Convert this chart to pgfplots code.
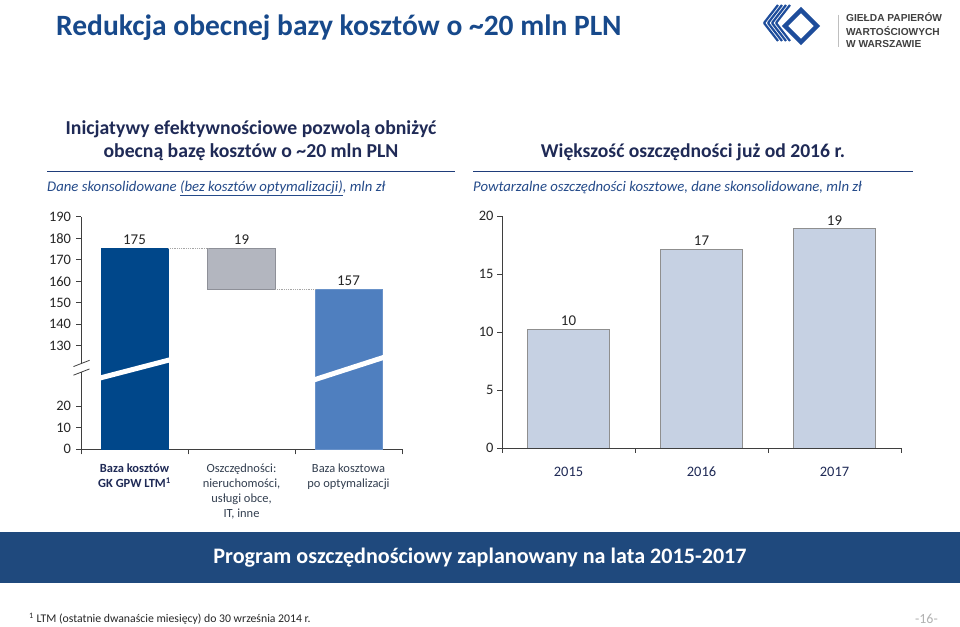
\documentclass[border=0pt]{standalone}
\usepackage{pgfplots}
\pgfplotsset{compat=1.18}
\usepackage{fontspec}
\setmainfont{Carlito}
\newfontfamily\logofont{Liberation Sans}
\definecolor{titleblue}{HTML}{17498B}
\definecolor{navyhead}{HTML}{1F2A56}
\definecolor{subblue}{HTML}{254B8A}
\definecolor{rulenavy}{HTML}{1F3D7A}
\definecolor{bardark}{HTML}{00478A}
\definecolor{barmid}{HTML}{4F7FBF}
\definecolor{graybar}{HTML}{B3B6BF}
\definecolor{grayedge}{HTML}{8E9098}
\definecolor{lightbar}{HTML}{C6D1E3}
\definecolor{lightedge}{HTML}{8F8F8F}
\definecolor{banner}{HTML}{1F497D}
\definecolor{axisgray}{HTML}{3F3F3F}
\definecolor{ticktext}{HTML}{262626}
\definecolor{catgray}{HTML}{333F50}
\definecolor{logoblue}{HTML}{1E4D9B}
\begin{document}
\begin{tikzpicture}
\begin{scope}[x=1bp,y=1bp]
\fill[white] (0,0) rectangle (960,627);
% title
\node[anchor=west, inner sep=0pt, text=titleblue, font=\fontsize{29.6}{34}\selectfont\bfseries] at (56,599) {Redukcja obecnej bazy kosztów o \textasciitilde20 mln PLN};
% logo
\begin{scope}[logoblue]
\draw[line width=4.5bp] (801,617) -- (817,601) -- (801,585) -- (785,601) -- cycle;
\foreach \i in {0,1,2,3}{
  \draw[line width=2.2bp] (790-4*\i,622) -- (776-4*\i,604);
  \draw[line width=2.2bp] (776-4*\i,604) -- (790-4*\i,586);
}
\end{scope}
\draw[gray!50, line width=0.8bp] (838,612) -- (838,580);
\begin{scope}[font=\logofont\bfseries\fontsize{10.2}{11}\selectfont, text=black!75]
\node[anchor=west, inner sep=0pt] at (846,610) {GIEŁDA PAPIERÓW};
\node[anchor=west, inner sep=0pt] at (846,596) {WARTOŚCIOWYCH};
\node[anchor=west, inner sep=0pt] at (846,583) {W WARSZAWIE};
\end{scope}
% headings
\node[align=center, text=navyhead, font=\fontsize{19.8}{23}\selectfont\bfseries] at (251,486.5) {Inicjatywy efektywnościowe pozwolą obniżyć\\obecną bazę kosztów o \textasciitilde20 mln PLN};
\draw[rulenavy, line width=1.5bp] (47,455.3) -- (455,455.3);
\node[anchor=west, inner sep=0pt, text=subblue, font=\fontsize{14.8}{18}\selectfont\itshape] at (47,439) {Dane skonsolidowane \underline{(bez kosztów optymalizacji)}, mln zł};
\node[text=navyhead, font=\fontsize{19.7}{23}\selectfont\bfseries] at (693,475) {Większość oszczędności już od 2016 r.};
\draw[rulenavy, line width=1.5bp] (473,455.3) -- (913,455.3);
\node[anchor=west, inner sep=0pt, text=subblue, font=\fontsize{14.8}{18}\selectfont\itshape] at (473,439) {Powtarzalne oszczędności kosztowe, dane skonsolidowane, mln zł};
% banner
\fill[banner] (0,43.7) rectangle (960,95.3);
\node[text=white, font=\fontsize{22.2}{26}\selectfont\bfseries] at (480,69.5) {Program oszczędnościowy zaplanowany na lata 2015-2017};
% footnote
\node[anchor=west, inner sep=0pt, font=\fontsize{11.8}{13}\selectfont, text=black!85] at (29,8) {\textsuperscript{1} LTM (ostatnie dwanaście miesięcy) do 30 września 2014 r.};
\node[anchor=east, inner sep=0pt, font=\fontsize{14}{15}\selectfont, text=black!30] at (938,8) {-16-};
\end{scope}

% left chart
\begin{axis}[at={(81bp,177.7bp)}, anchor=south west, scale only axis,
  width=321bp, height=232.7bp,
  xmin=-0.5, xmax=2.5, ymin=0, ymax=108, clip=false,
  axis lines*=left,
  y axis line style={draw=none},
  x axis line style={draw=axisgray, line width=0.8bp},
  tick align=outside, major tick length=5bp,
  tick style={draw=axisgray, line width=0.8bp},
  ytick={0,10,20,48,58,68,78,88,98,108},
  yticklabels={0,10,20,130,140,150,160,170,180,190},
  xtick={-0.5,0.5,1.5,2.5}, x tick label as interval,
  xticklabels={{\textcolor{navyhead}{\textbf{Baza kosztów}}\\\textcolor{navyhead}{\textbf{GK GPW LTM\textsuperscript{1}}}},
               {Oszczędności:\\nieruchomości,\\usługi obce,\\IT, inne},
               {Baza kosztowa\\po optymalizacji}},
  xticklabel style={font=\fontsize{12.5}{15}\selectfont, align=center, anchor=north, yshift=-6bp, text=catgray},
  yticklabel style={font=\fontsize{14.5}{16}\selectfont, text=ticktext, xshift=-1.5bp},
  /pgf/number format/assume math mode=true,
]
\addplot[ybar, bar width=0.63, bar shift=0pt, fill=bardark, draw=bardark,
  nodes near coords, point meta=explicit symbolic,
  nodes near coords style={font=\fontsize{15}{16}\selectfont, text=ticktext}]
  coordinates {(0,93.3)[175]};
\addplot[ybar, bar width=0.63, bar shift=0pt, fill=barmid, draw=barmid!85!white,
  nodes near coords, point meta=explicit symbolic,
  nodes near coords style={font=\fontsize{15}{16}\selectfont, text=ticktext}]
  coordinates {(2,74.3)[157]};
\addplot[fill=graybar, draw=grayedge, line width=0.6bp]
  coordinates {(0.685,74.3) (1.315,74.3) (1.315,93.3) (0.685,93.3)} -- cycle;
\addplot[densely dotted, gray!70, line width=0.8bp] coordinates {(0.315,93.3) (0.685,93.3)};
\addplot[densely dotted, gray!70, line width=0.8bp] coordinates {(1.315,74.3) (1.685,74.3)};
\node[above, font=\fontsize{15}{16}\selectfont, text=ticktext] at (axis cs:1,93.3) {19};
% breaks
\draw[white, line width=5bp] (axis cs:-0.36,32.6) -- (axis cs:0.36,41.9);
\draw[white, line width=5bp] (axis cs:1.62,31.3) -- (axis cs:2.35,43.0);
\draw[axisgray, line width=0.8bp] (axis cs:-0.5,0) -- (axis cs:-0.5,35.8);
\draw[axisgray, line width=0.8bp] (axis cs:-0.5,39.9) -- (axis cs:-0.5,108);
\draw[axisgray, line width=0.8bp] (axis cs:-0.57,34.4) -- (axis cs:-0.42,37.3);
\draw[axisgray, line width=0.8bp] (axis cs:-0.57,38.4) -- (axis cs:-0.42,41.3);
\end{axis}

% right chart
\begin{axis}[at={(502bp,179bp)}, anchor=south west, scale only axis,
  width=399bp, height=232bp,
  xmin=-0.5, xmax=2.5, ymin=0, ymax=20,
  axis lines*=left,
  axis line style={draw=axisgray, line width=0.8bp},
  tick align=outside, major tick length=5bp,
  tick style={draw=axisgray, line width=0.8bp},
  ytick={0,5,10,15,20},
  xtick={-0.5,0.5,1.5,2.5}, x tick label as interval,
  xticklabels={2015,2016,2017},
  xticklabel style={font=\fontsize{14.5}{16}\selectfont, text=navyhead, anchor=north, text height=10bp, text depth=2bp, yshift=-10bp},
  yticklabel style={font=\fontsize{14.5}{16}\selectfont, text=ticktext},
  /pgf/number format/assume math mode=true,
]
\addplot[ybar, bar width=0.62, bar shift=0pt, fill=lightbar, draw=lightedge, line width=0.8bp,
  nodes near coords, point meta=explicit symbolic,
  nodes near coords style={font=\fontsize{15}{16}\selectfont, text=ticktext}]
  coordinates {(0,10.2)[10] (1,17.1)[17] (2,18.9)[19]};
\end{axis}
\end{tikzpicture}
\end{document}
